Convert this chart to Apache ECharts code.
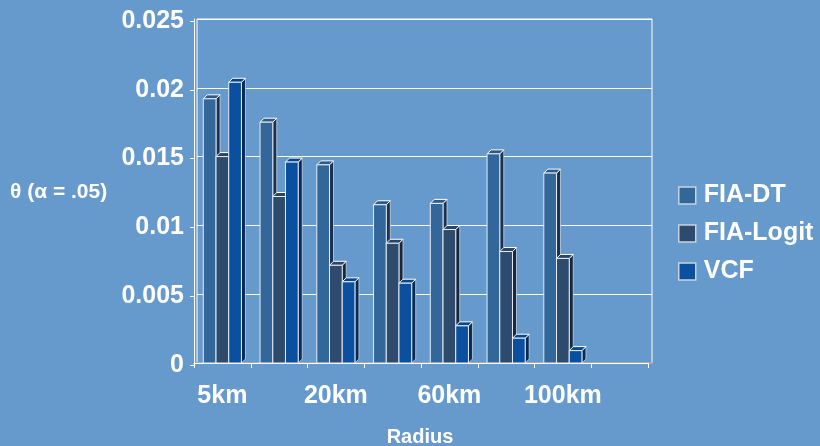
<!DOCTYPE html>
<html>
<head>
<meta charset="utf-8">
<script src="https://cdn.jsdelivr.net/npm/echarts@6/dist/echarts.min.js"></script>
<style>
  html, body { margin: 0; padding: 0; background: #6699CC; }
  #chart { width: 820px; height: 446px; }
</style>
</head>
<body>
<div id="chart"></div>
<script>
// Radius categories (only every other one carries a label)
const categories = ['5km', '', '20km', '', '60km', '', '100km', ''];
const seriesNames = ['FIA-DT', 'FIA-Logit', 'VCF'];
const fiaDT    = [0.0192, 0.0175, 0.0144, 0.0115, 0.0116, 0.0152, 0.0138, null];
const fiaLogit = [0.0150, 0.0121, 0.0071, 0.0087, 0.0097, 0.0081, 0.0076, null];
const vcf      = [0.0204, 0.0146, 0.0059, 0.0058, 0.0027, 0.0018, 0.0009, null];
const yTicks   = { min: 0, max: 0.025, interval: 0.005 };

const FONT = "'Liberation Sans', Arial, sans-serif";
const faceColors = ['#336699', '#2E4A6C', '#0B4F9F'];
const topColors  = ['#2F5A88', '#2A4464', '#0A468E'];
const sideColors = ['#1A3250', '#18283C', '#062A55'];

// Draws a bar with a front face, a top face and a right side face
function bar3d(slot) {
  return function (params, api) {
    const v = api.value(1);
    if (v == null || isNaN(v)) return;
    const cat = api.value(0);
    const band = api.size([1, 0])[0];
    const w = band * 0.224;
    const c = api.coord([cat, v]);
    const base = api.coord([cat, 0]);
    const x = c[0] + (slot - 1) * w - w / 2;
    const yTop = c[1], yBot = base[1];
    const d = 4;
    return {
      type: 'group',
      children: [
        { type: 'polygon',
          shape: { points: [[x + w, yTop], [x + w + d, yTop - d], [x + w + d, yBot - d], [x + w, yBot]] },
          style: { fill: sideColors[slot], stroke: '#C9D3DF', lineWidth: 0.8 } },
        { type: 'polygon',
          shape: { points: [[x, yTop], [x + d, yTop - d], [x + w + d, yTop - d], [x + w, yTop]] },
          style: { fill: topColors[slot], stroke: '#FFFFFF', lineWidth: 1 } },
        { type: 'rect',
          shape: { x: x, y: yTop, width: w, height: yBot - yTop },
          style: { fill: faceColors[slot], stroke: '#E6ECF3', lineWidth: 1 } }
      ]
    };
  };
}

function toPairs(arr) { return arr.map((v, i) => [i, v]); }

const chart = echarts.init(document.getElementById('chart'), null, { renderer: 'canvas' });

const labelStyle = { color: '#FFFFFF', fontWeight: 'bold', fontFamily: FONT };
const yRange = { min: yTicks.min, max: yTicks.max, interval: yTicks.interval };

chart.setOption({
  backgroundColor: '#6699CC',
  animation: false,
  grid: [
    // back wall
    { left: 197, right: 168, top: 19, bottom: 83, show: true, borderColor: '#FFFFFF', borderWidth: 1, backgroundColor: 'transparent' },
    // front axes and bars
    { left: 194, right: 172, top: 19, bottom: 83 },
    // front value labels, on the front plane
    { left: 194, right: 172, top: 21, bottom: 81 }
  ],
  xAxis: [
    { type: 'category', gridIndex: 0, data: categories,
      axisLine: { show: true, lineStyle: { color: '#A9A9A9', width: 2 } },
      axisTick: { show: false }, axisLabel: { show: false }, splitLine: { show: false } },
    { type: 'category', gridIndex: 1, data: categories, offset: 2,
      axisLine: { show: true, lineStyle: { color: '#FFFFFF', width: 1 } },
      axisTick: { show: true, length: 5, lineStyle: { color: '#FFFFFF' } },
      axisLabel: Object.assign({ interval: 0, fontSize: 25, margin: 19 }, labelStyle),
      splitLine: { show: false } },
    { type: 'category', gridIndex: 2, data: categories, show: false }
  ],
  yAxis: [
    Object.assign({ type: 'value', gridIndex: 0,
      axisLine: { show: false }, axisTick: { show: false }, axisLabel: { show: false },
      splitLine: { show: true, lineStyle: { color: '#FFFFFF', width: 1 } } }, yRange),
    Object.assign({ type: 'value', gridIndex: 1,
      axisLine: { show: true, lineStyle: { color: '#FFFFFF', width: 1 } },
      axisTick: { show: false }, axisLabel: { show: false },
      splitLine: { show: false } }, yRange),
    Object.assign({ type: 'value', gridIndex: 2,
      axisLine: { show: false },
      axisTick: { show: true, length: 4, lineStyle: { color: '#FFFFFF' } },
      axisLabel: Object.assign({ fontSize: 25, margin: 10 }, labelStyle),
      splitLine: { show: false } }, yRange)
  ],
  legend: {
    orient: 'vertical', left: 673, top: 178,
    itemWidth: 17, itemHeight: 17, itemGap: 13, icon: 'rect',
    itemStyle: { borderColor: '#C8D3E0', borderWidth: 1.5 },
    textStyle: { color: '#FFFFFF', fontSize: 25, fontWeight: 'bold', fontFamily: FONT, lineHeight: 25, padding: [0, 0, 0, 3] },
    data: seriesNames
  },
  graphic: [
    { type: 'text', x: 10, y: 192,
      style: { text: 'θ (α = .05)', fill: '#FFFFFF', font: 'bold 21px ' + FONT, align: 'left', verticalAlign: 'middle' } },
    { type: 'text', x: 420, y: 437,
      style: { text: 'Radius', fill: '#FFFFFF', font: 'bold 20px ' + FONT, align: 'center', verticalAlign: 'middle' } }
  ],
  series: [fiaDT, fiaLogit, vcf].map((arr, i) => ({
    name: seriesNames[i],
    type: 'custom',
    xAxisIndex: 1, yAxisIndex: 1,
    renderItem: bar3d(i),
    itemStyle: { color: faceColors[i] },
    encode: { x: 0, y: 1 },
    data: toPairs(arr)
  }))
});
</script>
</body>
</html>
